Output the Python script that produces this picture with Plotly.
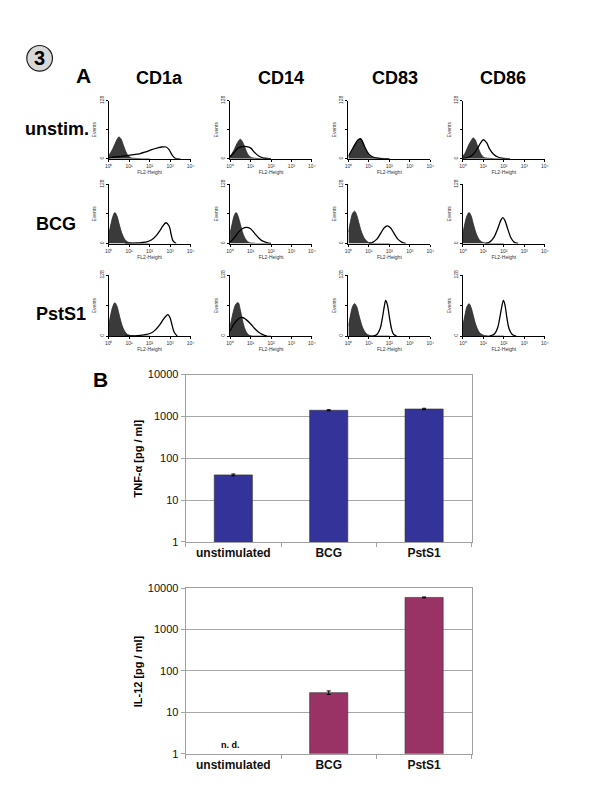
import plotly.graph_objects as go

W, H = 600, 800

markers = ['CD1a', 'CD14', 'CD83', 'CD86']
conditions = ['unstim.', 'BCG', 'PstS1']

# panel A: flow histograms, x in log10(FL2-Height), y in events (0-128)
iso_x = [0, 0.1, 0.2, 0.3, 0.4, 0.5, 0.6, 0.7, 0.8, 0.9, 1.0, 1.1, 1.3, 1.6, 2.0]
iso_unstim = [
    [8, 14, 22, 32, 42, 48, 44, 32, 20, 10, 5, 2, 1, 0, 0],
    [6, 12, 20, 30, 38, 43, 38, 28, 16, 8, 4, 2, 1, 0, 0],
    [4, 10, 18, 28, 36, 42, 44, 36, 24, 14, 7, 4, 2, 1, 0],
    [6, 12, 22, 32, 40, 46, 42, 30, 18, 9, 4, 2, 1, 0, 0],
]
iso_bcg = [
    [20, 40, 58, 67, 60, 44, 28, 16, 8, 4, 2, 1, 0, 0, 0],
    [22, 42, 60, 67, 58, 42, 26, 14, 7, 3, 1, 1, 0, 0, 0],
    [25, 48, 65, 70, 62, 46, 30, 18, 10, 5, 2, 1, 0, 0, 0],
    [22, 44, 60, 67, 60, 44, 28, 16, 8, 4, 2, 1, 0, 0, 0],
]
iso_psts1 = [
    [22, 45, 62, 70, 63, 47, 30, 17, 9, 4, 2, 1, 0, 0, 0],
    [20, 40, 58, 68, 70, 55, 35, 18, 8, 3, 1, 0, 0, 0, 0],
    [22, 44, 62, 68, 62, 46, 30, 17, 9, 4, 2, 1, 0, 0, 0],
    [22, 44, 62, 68, 60, 44, 28, 16, 8, 4, 2, 1, 0, 0, 0],
]

stain_unstim_x = [
    [0, 0.3, 0.6, 0.9, 1.2, 1.5, 1.8, 2.1, 2.4, 2.6, 2.8, 2.95, 3.1, 3.25, 3.5],
    [0, 0.2, 0.4, 0.6, 0.8, 1.0, 1.2, 1.4, 1.6, 1.8, 2.0],
    [0, 0.2, 0.4, 0.5, 0.6, 0.8, 1.0, 1.2, 1.5, 2.0],
    [0, 0.3, 0.5, 0.7, 0.85, 1.0, 1.15, 1.3, 1.5, 1.7, 2.0, 2.3],
]
stain_unstim_y = [
    [2, 4, 5, 7, 9, 11, 15, 20, 24, 26, 26, 20, 8, 1, 0],
    [4, 14, 24, 27, 27, 24, 14, 6, 2, 1, 0],
    [6, 22, 38, 43, 44, 26, 10, 4, 1, 0],
    [1, 4, 10, 22, 34, 42, 36, 22, 10, 4, 1, 0],
]
stain_bcg_x = [
    [0.8, 1.2, 1.6, 1.9, 2.1, 2.3, 2.5, 2.65, 2.8, 2.95, 3.05, 3.15, 3.3],
    [0, 0.2, 0.4, 0.6, 0.8, 1.0, 1.2, 1.4, 1.6, 1.8, 2.0],
    [1.0, 1.2, 1.4, 1.6, 1.75, 1.9, 2.05, 2.2, 2.4, 2.6, 2.8],
    [1.1, 1.3, 1.5, 1.7, 1.85, 1.95, 2.05, 2.2, 2.35, 2.5, 2.7],
]
stain_bcg_y = [
    [0, 1, 2, 4, 8, 16, 28, 38, 45, 38, 20, 5, 0],
    [3, 12, 24, 32, 35, 32, 22, 12, 5, 2, 0],
    [0, 3, 10, 24, 34, 38, 34, 24, 10, 3, 0],
    [0, 3, 12, 32, 50, 56, 50, 30, 12, 3, 0],
]
stain_psts1_x = [
    [0.8, 1.4, 1.8, 2.1, 2.3, 2.5, 2.65, 2.8, 2.9, 3.0, 3.1, 3.2, 3.35],
    [0, 0.2, 0.4, 0.6, 0.8, 1.0, 1.2, 1.4, 1.6, 1.8],
    [1.2, 1.4, 1.55, 1.65, 1.75, 1.82, 1.9, 2.0, 2.1, 2.2, 2.35],
    [1.3, 1.55, 1.7, 1.8, 1.9, 1.98, 2.06, 2.15, 2.25, 2.4, 2.6],
]
stain_psts1_y = [
    [0, 1, 3, 7, 14, 24, 34, 42, 45, 38, 22, 8, 0],
    [10, 26, 36, 39, 34, 26, 16, 8, 3, 0],
    [0, 4, 16, 36, 62, 75, 66, 40, 16, 4, 0],
    [0, 5, 18, 38, 62, 75, 64, 38, 16, 4, 0],
]

# panel B: cytokines
stimuli = ['unstimulated', 'BCG', 'PstS1']
tnf = [40, 1400, 1500]
tnf_err = [2, 40, 60]
il12 = [None, 30, 6000]
il12_err = [0, 3, 150]

FONT = 'Arial, Liberation Sans, sans-serif'

def px(x):
    return x / W

def py(y):
    return 1 - y / H

fig = go.Figure()
layout = {}

col_left = [98, 221, 341, 457]
row_span = [(88, 147), (173, 233), (265, 327)]
iso_rows = [iso_unstim, iso_bcg, iso_psts1]
stain_x_rows = [stain_unstim_x, stain_bcg_x, stain_psts1_x]
stain_y_rows = [stain_unstim_y, stain_bcg_y, stain_psts1_y]

n = 0
for r in range(3):
    for c in range(4):
        n += 1
        xa = 'x' if n == 1 else f'x{n}'
        ya = 'y' if n == 1 else f'y{n}'
        fig.add_trace(go.Scatter(
            x=iso_x, y=iso_rows[r][c], xaxis=xa, yaxis=ya, mode='lines',
            fill='tozeroy', fillcolor='#3a3a3a',
            line=dict(color='#2a2a2a', width=0.8, shape='spline'),
            showlegend=False, hoverinfo='skip'))
        fig.add_trace(go.Scatter(
            x=stain_x_rows[r][c], y=stain_y_rows[r][c], xaxis=xa, yaxis=ya,
            mode='lines', line=dict(color='black', width=1.3, shape='spline'),
            showlegend=False, hoverinfo='skip'))
        top, bot = row_span[r]
        left = col_left[c]
        layout['xaxis' if n == 1 else f'xaxis{n}'] = dict(
            domain=[px(left), px(left + 83)], anchor=ya, range=[0, 4],
            tickvals=[0, 1, 2, 3, 4],
            ticktext=['10⁰', '10¹', '10²', '10³', '10⁴'],
            tickfont=dict(size=5, color='#333'), ticks='outside', ticklen=2,
            tickcolor='black', showline=True, linecolor='black', linewidth=1,
            showgrid=False, zeroline=False,
            title=dict(text='FL2-Height', font=dict(size=5, color='#333'), standoff=1))
        layout['yaxis' if n == 1 else f'yaxis{n}'] = dict(
            domain=[py(bot), py(top)], anchor=xa, range=[0, 128],
            tickvals=[0, 64, 128], ticktext=['0', '', '128'], tickangle=-90,
            tickfont=dict(size=5, color='#333'), ticks='outside', ticklen=2,
            tickcolor='black', showline=True, linecolor='black', linewidth=1,
            showgrid=False, zeroline=False,
            title=dict(text='Events', font=dict(size=5, color='#333'), standoff=1))

# bar charts
bar_boxes = [(366, 536), (583, 751)]
bar_sets = [(tnf, tnf_err, '#333399'), (il12, il12_err, '#993366')]
for i, (vals, errs, colr) in enumerate(bar_sets):
    n += 1
    xa, ya = f'x{n}', f'y{n}'
    fig.add_trace(go.Bar(
        x=stimuli, y=vals, xaxis=xa, yaxis=ya, width=0.4,
        marker=dict(color=colr, line=dict(color='#303030', width=0.6)),
        error_y=dict(type='data', array=errs, color='black', thickness=1, width=2),
        showlegend=False))
    top, bot = bar_boxes[i]
    layout[f'xaxis{n}'] = dict(
        domain=[px(176), px(466)], anchor=ya, type='category',
        tickfont=dict(family=FONT, size=12, color='#111', weight='bold'),
        ticks='outside', tickson='boundaries', ticklen=4, tickcolor='#a0a0a0',
        showline=True, linecolor='#a0a0a0', mirror=True, showgrid=False)
    layout[f'yaxis{n}'] = dict(
        domain=[py(bot), py(top)], anchor=xa, type='log', range=[0, 4],
        tickvals=[1, 10, 100, 1000, 10000],
        ticktext=['1', '10', '100', '1000', '10000'],
        tickfont=dict(family=FONT, size=11, color='#111'),
        ticks='outside', ticklen=4, tickcolor='#a0a0a0',
        showline=True, linecolor='#a0a0a0', mirror=True,
        showgrid=True, gridcolor='#a8a8a8', gridwidth=1, zeroline=False)

ann = []
def label(text, x, y, size, angle=0, bold=True):
    ann.append(dict(text=f'<b>{text}</b>' if bold else text, x=px(x), y=py(y),
                    xref='paper', yref='paper', showarrow=False, textangle=angle,
                    font=dict(family=FONT, size=size, color='black'),
                    xanchor='center', yanchor='middle'))

label('3', 28, 45, 20)
label('A', 72, 62, 21)
label('B', 90, 371, 21)
for m, cx in zip(markers, [149, 273, 388, 498]):
    label(m, cx, 65, 18)
for cond, cx, cy in zip(conditions, [46, 45, 50], [117, 213, 305]):
    label(cond, cx, cy, 18)
label('TNF-α [pg / ml]', 128, 451, 11, angle=-90)
label('IL-12 [pg / ml]', 128, 667, 11, angle=-90)
ann.append(dict(text='<b>n. d.</b>', x='unstimulated', y=0.2, xref=f'x{n}', yref=f'y{n}',
                showarrow=False, font=dict(family=FONT, size=9, color='black'),
                xanchor='center', yanchor='middle', xshift=-3))

fig.update_layout(**layout)
fig.update_layout(
    width=W, height=H, margin=dict(l=0, r=0, t=0, b=0),
    paper_bgcolor='white', plot_bgcolor='white',
    font=dict(family=FONT), bargap=0.6, annotations=ann,
    shapes=[dict(type='circle', xref='paper', yref='paper',
                 x0=px(15), x1=px(41), y0=py(58), y1=py(32),
                 fillcolor='#d8d8d8', line=dict(color='#222', width=1.2),
                 layer='below')])

fig.write_html('out.html')
